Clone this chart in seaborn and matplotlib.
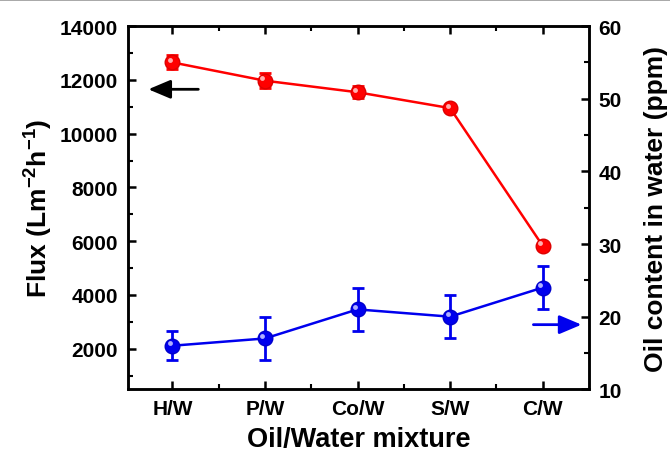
import matplotlib
matplotlib.use("Agg")
import matplotlib.pyplot as plt
import matplotlib.transforms as mtransforms
from matplotlib.lines import Line2D
from matplotlib.ticker import MultipleLocator, FixedLocator
import seaborn as sns
import pandas as pd

categories = ["H/W", "P/W", "Co/W", "S/W", "C/W"]
flux = [12650, 11970, 11540, 10950, 5830]
flux_err = [260, 280, 220, 120, 110]
oil = [16, 17, 21, 20, 24]
oil_err = [2, 3, 3, 3, 3]

sns.set_theme(style="ticks")
plt.rcParams['font.family'] = ['Liberation Sans', 'DejaVu Sans']
plt.rcParams['font.weight'] = 'bold'
plt.rcParams['text.color'] = 'black'
plt.rcParams['axes.labelcolor'] = 'black'
plt.rcParams['xtick.color'] = 'black'
plt.rcParams['ytick.color'] = 'black'
plt.rcParams['mathtext.fontset'] = 'custom'
plt.rcParams['mathtext.rm'] = 'Liberation Sans:bold'
plt.rcParams['mathtext.bf'] = 'Liberation Sans:bold'
plt.rcParams['mathtext.default'] = 'bf'

df = pd.DataFrame({"x": range(len(categories)), "flux": flux, "oil": oil})

fig = plt.figure(figsize=(6.7, 4.52), dpi=100)
ax = fig.add_axes([0.191, 0.1365, 0.688, 0.8035])
ax2 = ax.twinx()

red = "#ff0000"
blue = "#0000ee"

# flux series (left axis)
ax.errorbar(df["x"], df["flux"], yerr=flux_err, fmt="none", ecolor=red,
            elinewidth=2, capsize=4, capthick=2, zorder=2)
sns.lineplot(data=df, x="x", y="flux", ax=ax, color=red, lw=1.8,
             marker="o", markersize=10.5, markeredgecolor="#dd0000",
             markeredgewidth=1, zorder=3)
hl = mtransforms.offset_copy(ax.transData, fig=fig, x=-1.8, y=1.8, units="points")
ax.plot(df["x"], df["flux"], ls="none", marker="o", markersize=3.5,
        color="#ffb0b0", markeredgewidth=0, transform=hl, zorder=4)

# oil series (right axis)
ax2.errorbar(df["x"], df["oil"], yerr=oil_err, fmt="none", ecolor=blue,
             elinewidth=2, capsize=4, capthick=2, zorder=2)
sns.lineplot(data=df, x="x", y="oil", ax=ax2, color=blue, lw=1.8,
             marker="o", markersize=10.5, markeredgecolor="#0000cc",
             markeredgewidth=1, zorder=3)
hl2 = mtransforms.offset_copy(ax2.transData, fig=fig, x=-1.8, y=1.8, units="points")
ax2.plot(df["x"], df["oil"], ls="none", marker="o", markersize=3.5,
         color="#b0b0ff", markeredgewidth=0, transform=hl2, zorder=4)

# axes limits / ticks
ax.set_xlim(-0.48, 4.5)
ax.set_ylim(490, 14000)
ax2.set_ylim(10, 60)

ax.set_xticks(range(len(categories)))
ax.set_xticklabels(categories)
ax.xaxis.set_minor_locator(FixedLocator([0.5, 1.5, 2.5, 3.5]))
ax.yaxis.set_major_locator(MultipleLocator(2000))
ax.yaxis.set_minor_locator(MultipleLocator(1000))
ax2.yaxis.set_major_locator(MultipleLocator(10))
ax2.yaxis.set_minor_locator(MultipleLocator(5))

for a in (ax, ax2):
    for s in a.spines.values():
        s.set_linewidth(1.8)
        s.set_color("black")
    a.tick_params(which="major", direction="in", length=6, width=1.8,
                  labelsize=15, pad=7, colors="black")
    a.tick_params(which="minor", direction="in", length=3.5, width=1.5,
                  colors="black")

ax.tick_params(axis="x", which="both", top=True)
ax2.tick_params(axis="y", which="both", right=True, left=False)
ax.tick_params(axis="y", which="both", right=False)

for lbl in ax.get_xticklabels() + ax.get_yticklabels() + ax2.get_yticklabels():
    lbl.set_fontweight("bold")

ax.set_xlabel("Oil/Water mixture", fontsize=19.5, fontweight="bold",
              labelpad=6, color="black")
ax.set_ylabel(r"Flux (Lm$^{-2}$h$^{-1}$)", fontsize=19, fontweight="bold",
              labelpad=3.5, color="black")
ax2.set_ylabel("Oil content in water (ppm)", fontsize=19, fontweight="bold",
               labelpad=16, color="black")

# direction arrows
ax.annotate("", xy=(-0.26, 11650), xytext=(0.28, 11650),
            arrowprops=dict(arrowstyle="-|>,head_length=0.9,head_width=0.38",
                            color="black", lw=2, mutation_scale=15,
                            shrinkA=0, shrinkB=0))
ax2.annotate("", xy=(4.42, 18.9), xytext=(3.9, 18.9),
             arrowprops=dict(arrowstyle="-|>,head_length=0.9,head_width=0.38",
                             color=blue, lw=2, mutation_scale=15,
                             shrinkA=0, shrinkB=0))

# thin grey frame line at the top of the image
fig.add_artist(Line2D([0, 1], [0.998, 0.998], transform=fig.transFigure,
                      color="#999999", lw=1.2))

fig.savefig("out.png", dpi=100)
